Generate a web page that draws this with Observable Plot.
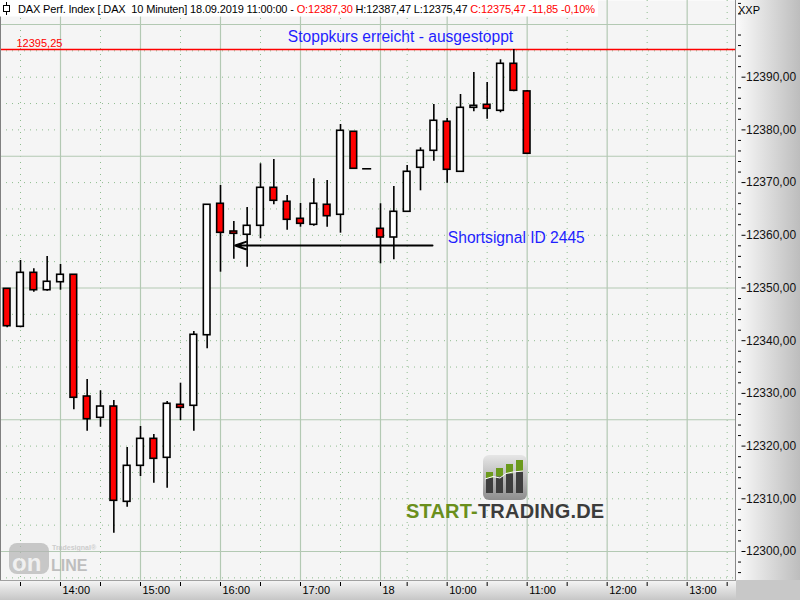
<!DOCTYPE html>
<html><head><meta charset="utf-8">
<script src="https://cdn.jsdelivr.net/npm/d3@7"></script>
<script src="https://cdn.jsdelivr.net/npm/@observablehq/plot@0.6"></script>
<style>
html,body{margin:0;padding:0;background:#fff;}
#chart{width:800px;height:600px;overflow:hidden;}
</style></head><body><div id="chart"></div>
<script>
// ---- data: 10-minute candles, DAX (17./18.09.2019) ----
const times = ["13:20","13:30","13:40","13:50","14:00","14:10","14:20","14:30","14:40","14:50",
  "15:00","15:10","15:20","15:30","15:40","15:50","16:00","16:10","16:20","16:30",
  "16:40","16:50","17:00","17:10","17:20","17:30","17:40","17:50","09:10","09:20",
  "09:30","09:40","09:50","10:00","10:10","10:20","10:30","10:40","10:50","11:00"];
const open  = [12349.85,12342.64,12352.88,12349.58,12351.10,12352.51,12329.41,12325.37,12327.51,12309.43,
  12316.26,12321.38,12317.78,12327.84,12327.65,12341.04,12365.98,12360.72,12360.10,12361.80,
  12369.01,12366.36,12363.13,12361.99,12365.79,12363.89,12379.64,12372.62,12361.23,12359.58,
  12364.46,12372.81,12376.03,12381.54,12372.05,12384.19,12384.76,12383.62,12392.54,12387.30];
const high  = [12349.85,12355.22,12353.64,12355.98,12354.46,12352.51,12332.64,12330.49,12328.65,12319.73,
  12323.72,12322.20,12328.46,12331.94,12341.75,12365.79,12369.45,12362.62,12365.28,12373.57,
  12374.38,12367.55,12366.03,12370.72,12370.40,12381.02,12379.64,12372.62,12365.98,12369.26,
  12373.24,12376.60,12384.82,12382.16,12386.72,12390.89,12388.99,12393.30,12395.25,12387.47];
const low   = [12342.45,12342.45,12349.20,12349.39,12349.58,12326.89,12322.83,12323.59,12303.47,12308.41,
  12314.23,12312.96,12312.01,12324.86,12322.83,12338.46,12353.00,12355.46,12353.95,12359.34,
  12365.79,12360.97,12361.54,12361.73,12361.54,12360.40,12372.62,12372.62,12354.59,12355.35,
  12364.46,12368.44,12374.06,12369.89,12372.05,12383.43,12382.03,12383.24,12387.23,12375.47];
const close = [12342.75,12352.88,12349.58,12351.18,12352.51,12329.17,12325.10,12327.51,12309.62,12316.26,
  12321.38,12317.59,12328.03,12327.27,12341.12,12365.79,12360.47,12360.28,12361.80,12369.01,
  12366.55,12362.94,12362.18,12365.98,12363.62,12379.83,12372.62,12372.62,12359.58,12364.46,
  12372.05,12376.03,12381.73,12372.43,12384.19,12384.57,12384.00,12392.54,12387.42,12375.47];

// time axis (candle index positions)
const hourIdx    = [4,10,16,22,28,33,39,45,51];
const hourLabels = ["14:00","15:00","16:00","17:00","18","10:00","11:00","12:00","13:00"];
const halfIdx    = [1,7,13,19,25,30,36,42,48,54];

// price axis
const yTicks = [12300,12310,12320,12330,12340,12350,12360,12370,12380,12390];
const yMinor = d3.range(12296, 12405, 2).filter(v => v % 10 !== 0);
const gridMajor = [12300,12325,12350,12375,12400];
const gridMinor = d3.range(12295, 12401, 5).filter(v => v % 25 !== 0);

// annotations
const stopLevel = [12395.25];
const signalLevel = [12358.06];
const signalFrom = [31.9];
const signalTo = [17.1];
const stopNote = [{x: 29.5, y: 12395.25, text: "Stoppkurs erreicht - ausgestoppt"}];
const signalNote = [{x: 33.05, y: 12358.5, text: "Shortsignal ID 2445"}];
const header = [
  ["DAX Perf. Index [.DAX  10 Minuten] 18.09.2019 11:00:00 - ", "#000"],
  ["O:12387,30", "#ff0000"],
  [" H:12387,47 L:12375,47 ", "#000"],
  ["C:12375,47 -11,85 -0,10%", "#ff0000"]
];

const candles = times.map((t, i) => ({i, t, o: open[i], h: high[i], l: low[i], c: close[i]}));
const fmt = v => v.toFixed(2).replace(".", ",");
const FONT = "'Liberation Sans', Arial, sans-serif";

const plot = Plot.plot({
  width: 800, height: 600,
  marginLeft: 0, marginRight: 64, marginTop: 0, marginBottom: 20,
  style: {fontFamily: FONT, fontSize: "11px", background: "transparent", overflow: "visible"},
  x: {domain: [-0.5, 54.7], axis: null, label: null},
  y: {domain: [12294.5, 12404.55], axis: null, label: null},
  marks: [
    Plot.frame({fill: "#f5f5f5", stroke: "none"}),
    Plot.ruleY(gridMinor, {stroke: "#8fbc8f", strokeDasharray: "1,5"}),
    Plot.ruleX(halfIdx, {stroke: "#8fbc8f", strokeDasharray: "1,5"}),
    Plot.ruleY(gridMajor, {stroke: "#b3c9b3", strokeWidth: 1.2}),
    Plot.ruleX(hourIdx, {stroke: "#b3c9b3", strokeWidth: 1.2}),
    Plot.ruleY(stopLevel, {stroke: "#ff0000", strokeWidth: 1.6}),
    Plot.text(stopLevel, {y: d => d, text: d => fmt(d), frameAnchor: "left", dx: 16, dy: -3,
      textAnchor: "start", lineAnchor: "bottom", fill: "#ff0000", fontSize: 11}),
    Plot.ruleX(candles, {x: "i", y1: "l", y2: "h", stroke: "#000", strokeWidth: 1.6}),
    Plot.rect(candles.filter(d => d.o !== d.c), {x1: d => d.i - 0.25, x2: d => d.i + 0.25, y1: "o", y2: "c",
      fill: d => d.c < d.o ? "#ff0000" : "#ffffff", stroke: "#000", strokeWidth: 1.6}),
    Plot.ruleY(candles.filter(d => d.o === d.c), {y: "o", x1: d => d.i - 0.34, x2: d => d.i + 0.34,
      stroke: "#000", strokeWidth: 1.6}),
    Plot.arrow(signalLevel, {x1: (d, i) => signalFrom[i], x2: (d, i) => signalTo[i], y1: d => d, y2: d => d,
      stroke: "#000", strokeWidth: 2, headLength: 8.5, headAngle: 38}),
    Plot.text(stopNote, {x: "x", y: "y", text: "text", textAnchor: "middle", dy: -8,
      lineAnchor: "bottom", fill: "#1f1fff", fontSize: 15.6}),
    Plot.text(signalNote, {x: "x", y: "y", text: "text", textAnchor: "start",
      lineAnchor: "bottom", fill: "#1f1fff", fontSize: 15.6}),
    Plot.axisY(yMinor, {anchor: "right", tickSize: 3, dx: 1, tickFormat: () => "", label: null, stroke: "#000"}),
    Plot.axisY(yTicks, {anchor: "right", tickSize: 4, dx: 4.5, tickPadding: 1, tickFormat: fmt,
      label: null, fontSize: 12, fill: "#111", stroke: "#000"}),
    Plot.axisX(hourIdx.concat(halfIdx), {anchor: "bottom", tickSize: 4, dy: 2, tickFormat: () => "",
      label: null, stroke: "#000"}),
    Plot.text(hourIdx, {x: d => d, text: (d, i) => hourLabels[i], frameAnchor: "bottom", dy: 13, dx: 2,
      textAnchor: "start", fontSize: 11, fill: "#000"})
  ]
});

const svg = d3.select(plot);
// panels behind
const defs = svg.insert("defs", ":first-child");
const g1 = defs.append("linearGradient").attr("id", "gr").attr("x1", 0).attr("x2", 1).attr("y1", 0).attr("y2", 0);
g1.append("stop").attr("offset", 0).attr("stop-color", "#fbfbfb");
g1.append("stop").attr("offset", 1).attr("stop-color", "#bdbdbd");
const g2 = defs.append("linearGradient").attr("id", "gb").attr("x1", 0).attr("x2", 0).attr("y1", 0).attr("y2", 1);
g2.append("stop").attr("offset", 0).attr("stop-color", "#f6f6f6");
g2.append("stop").attr("offset", 1).attr("stop-color", "#c6c6c6");
const g3 = defs.append("linearGradient").attr("id", "gi").attr("x1", 0).attr("x2", 0).attr("y1", 0).attr("y2", 1);
g3.append("stop").attr("offset", 0).attr("stop-color", "#e6e6e6");
g3.append("stop").attr("offset", 1).attr("stop-color", "#8e8e8e");
const back = svg.insert("g", "defs + *");
back.append("rect").attr("x", 736).attr("y", 0).attr("width", 64).attr("height", 600).attr("fill", "url(#gr)");
back.append("rect").attr("x", 0).attr("y", 580).attr("width", 736).attr("height", 20).attr("fill", "url(#gb)");
back.append("rect").attr("x", 736).attr("y", 580).attr("width", 64).attr("height", 20).attr("fill", "#c8c8c8");

// front decorations
const front = svg.append("g").attr("text-anchor", "start");
front.append("line").attr("x1", 0.5).attr("x2", 0.5).attr("y1", 0).attr("y2", 580).attr("stroke", "#808080");
front.append("line").attr("x1", 735.5).attr("x2", 735.5).attr("y1", 0).attr("y2", 580).attr("stroke", "#8a8a8a");
front.append("line").attr("x1", 0).attr("x2", 736).attr("y1", 580.5).attr("y2", 580.5).attr("stroke", "#a0a0a0");
front.append("text").attr("x", 738).attr("y", 14).attr("font-size", 11).attr("font-family", FONT)
  .attr("fill", "#000").text("XXP");

// header box
front.append("rect").attr("x", 0).attr("y", 0).attr("width", 598).attr("height", 16.5).attr("fill", "#fff");
front.append("line").attr("x1", 6.5).attr("x2", 6.5).attr("y1", 2).attr("y2", 15).attr("stroke", "#000");
front.append("rect").attr("x", 3.5).attr("y", 5.5).attr("width", 6).attr("height", 6).attr("fill", "#fff").attr("stroke", "#000");
const ht = front.append("text").attr("x", 18).attr("y", 13).attr("font-size", 11).attr("font-family", FONT)
  .attr("letter-spacing", "-0.15px").style("white-space", "pre");
header.forEach(([s, c]) => ht.append("tspan").attr("fill", c).text(s));

// START-TRADING.DE logo
const lg = front.append("g");
lg.append("rect").attr("x", 483).attr("y", 455).attr("width", 44).attr("height", 45).attr("rx", 6).attr("fill", "url(#gi)");
[[486, 472, 478], [496, 468, 476.5], [506, 464, 473.5], [516, 460, 471.5]].forEach(([x, top, mid]) => {
  lg.append("rect").attr("x", x).attr("y", top).attr("width", 7).attr("height", mid - top).attr("fill", "#6b9a1c");
  lg.append("rect").attr("x", x).attr("y", mid).attr("width", 7).attr("height", 493 - mid).attr("fill", "#3e3e3e");
});
lg.append("polyline").attr("points", "485,479 493,476.5 500,478 506,473.5 513,472 523,471")
  .attr("fill", "none").attr("stroke", "#fff").attr("stroke-width", 1);
const lt = lg.append("text").attr("x", 406).attr("y", 518).attr("font-size", 20).attr("font-weight", "bold")
  .attr("font-family", FONT).attr("letter-spacing", "0.2px");
lt.append("tspan").attr("fill", "#6a8f1c").text("START-");
lt.append("tspan").attr("fill", "#3c3c3c").text("TRADING.DE");

// Tradesignal online watermark
const wm = front.append("g").attr("opacity", 0.7);
wm.append("rect").attr("x", 9).attr("y", 543).attr("width", 40).attr("height", 31).attr("rx", 8).attr("fill", "#b4b4b4");
wm.append("text").attr("x", 12).attr("y", 571).attr("font-size", 24).attr("font-weight", "bold")
  .attr("font-family", FONT).attr("fill", "#eeeeee").text("on");
wm.append("text").attr("x", 51).attr("y", 571).attr("font-size", 16).attr("font-weight", "bold")
  .attr("font-family", FONT).attr("fill", "#a8a8a8").text("LINE");
wm.append("text").attr("x", 52).attr("y", 550).attr("font-size", 7).attr("font-weight", "bold")
  .attr("font-family", FONT).attr("fill", "#bcbcbc").text("Tradesignal®");

document.getElementById("chart").append(plot);
</script>
</body></html>
